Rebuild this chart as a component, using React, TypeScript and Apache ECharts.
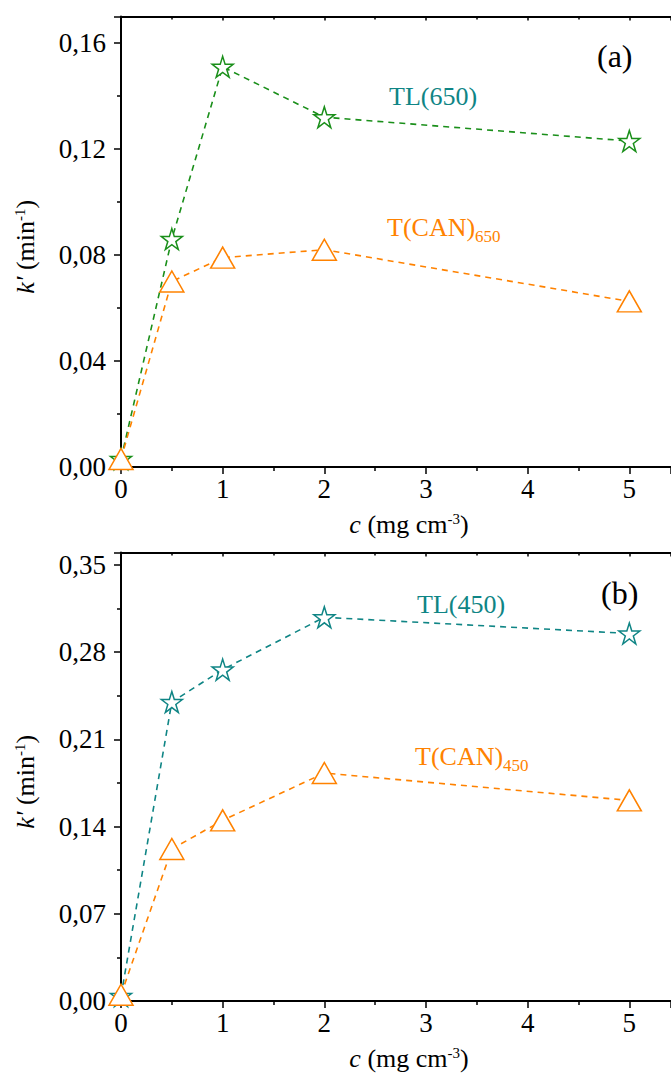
import React, { useEffect, useRef } from "react";
import * as echarts from "echarts";

const xValues = [0, 0.5, 1, 2, 5];
const tl650 = [0.003, 0.086, 0.151, 0.132, 0.123];
const can650 = [0.003, 0.07, 0.079, 0.082, 0.0625];
const tl450 = [0.004, 0.24, 0.266, 0.308, 0.295];
const can450 = [0.005, 0.122, 0.145, 0.183, 0.161];

const FONT = "Liberation Serif";
const GREEN = "#1a8f1a";
const TEAL = "#0f8585";
const ORANGE = "#ff8200";
const STAR =
  "path://M50,0 L61.2,34.5 L97.6,34.5 L68.2,55.9 L79.4,90.5 L50,69.1 L20.6,90.5 L31.8,55.9 L2.4,34.5 L38.8,34.5 Z";

const pairs = (ys: number[]) => xValues.map((x, i) => [x, ys[i]]);

const fmt = (v: number) => v.toFixed(2).replace(".", ",");

function axesFor(gridIndex: number, yMax: number, yInterval: number) {
  const xBase = {
    gridIndex,
    type: "value",
    min: 0,
    max: 5.41,
    interval: 1,
    splitLine: { show: false },
    axisLine: { show: true, lineStyle: { color: "#000", width: 2 } },
  };
  const xBottom = {
    ...xBase,
    position: "bottom",
    axisTick: { show: true, inside: false, length: 7, lineStyle: { color: "#000", width: 1.5 } },
    minorTick: { show: true, splitNumber: 2, length: 4, lineStyle: { color: "#000", width: 1.5 } },
    axisLabel: {
      show: true,
      fontFamily: FONT,
      fontSize: 27,
      color: "#000",
      margin: 8,
      showMaxLabel: false,
      formatter: (v: number) => (Number.isInteger(v) ? String(v) : ""),
    },
    name: "{i|c} (mg cm{s|-3})",
    nameLocation: "middle",
    nameGap: 44,
    nameTextStyle: {
      fontFamily: FONT,
      fontSize: 26,
      color: "#000",
      padding: [0, 0, 0, 26],
      rich: {
        i: { fontFamily: FONT, fontSize: 26, fontStyle: "italic", color: "#000" },
        s: { fontFamily: FONT, fontSize: 15, color: "#000", verticalAlign: "top", padding: [0, 0, 10, 0] },
      },
    },
  };
  const xTop = {
    ...xBase,
    position: "top",
    axisTick: { show: true, inside: true, length: 4, lineStyle: { color: "#000", width: 1.5 } },
    minorTick: { show: true, splitNumber: 2, length: 3, lineStyle: { color: "#000", width: 1.5 } },
    axisLabel: { show: false },
  };
  const yLeft = {
    gridIndex,
    type: "value",
    min: 0,
    max: yMax,
    interval: yInterval,
    splitLine: { show: false },
    axisLine: { show: true, lineStyle: { color: "#000", width: 2 } },
    axisTick: { show: true, inside: false, length: 7, lineStyle: { color: "#000", width: 1.5 } },
    minorTick: { show: true, splitNumber: 2, length: 4, lineStyle: { color: "#000", width: 1.5 } },
    axisLabel: {
      fontFamily: FONT,
      fontSize: 27,
      color: "#000",
      margin: 15,
      showMaxLabel: false,
      formatter: (v: number) => {
        const k = v / yInterval;
        return Math.abs(k - Math.round(k)) < 1e-6 ? fmt(v) : "";
      },
    },
    name: "{i|k'} (min{s|-1})",
    nameLocation: "middle",
    nameGap: 83,
    nameTextStyle: {
      fontFamily: FONT,
      fontSize: 26,
      color: "#000",
      padding: [0, 10, 0, 0],
      rich: {
        i: { fontFamily: FONT, fontSize: 26, fontStyle: "italic", color: "#000" },
        s: { fontFamily: FONT, fontSize: 15, color: "#000", verticalAlign: "top", padding: [0, 0, 10, 0] },
      },
    },
  };
  return { xBottom, xTop, yLeft };
}

function lineSeries(
  name: string,
  data: number[],
  color: string,
  symbol: string,
  symbolSize: number | number[],
  xAxisIndex: number,
  yAxisIndex: number
) {
  return {
    name,
    type: "line",
    data: pairs(data),
    xAxisIndex,
    yAxisIndex,
    symbol,
    symbolSize,
    showAllSymbol: true,
    clip: true,
    lineStyle: { color, width: 1.6, type: [6, 5] },
    itemStyle: { color: "#ffffff", borderColor: color, borderWidth: 1.5 },
    z: 3,
  };
}

export default function App() {
  const ref = useRef<HTMLDivElement>(null);
  useEffect(() => {
    if (!ref.current) return;
    const chart = echarts.init(ref.current, undefined, { renderer: "svg" });
    const a = axesFor(0, 0.17, 0.04);
    const b = axesFor(1, 0.36, 0.07);
    const txt = (x: number, y: number, text: string, color: string, size: number) => ({
      type: "text",
      x,
      y,
      style: {
        text,
        fill: color,
        fontFamily: FONT,
        fontSize: size,
        verticalAlign: "middle",
        rich: {
          m: { fontFamily: FONT, fontSize: size, fill: color },
          sub: { fontFamily: FONT, fontSize: 17, fill: color, padding: [18, 0, 0, 0] },
        },
      },
    });
    chart.setOption({
      animation: false,
      backgroundColor: "#ffffff",
      textStyle: { fontFamily: FONT },
      grid: [
        { left: 121, top: 16.5, width: 550, height: 450.5 },
        { left: 121, top: 552.5, width: 550, height: 448.5 },
      ],
      xAxis: [a.xBottom, a.xTop, b.xBottom, b.xTop],
      yAxis: [a.yLeft, b.yLeft],
      series: [
        lineSeries("TL(650)", tl650, GREEN, STAR, 21, 0, 0),
        lineSeries("T(CAN)650", can650, ORANGE, "triangle", [24, 21], 0, 0),
        lineSeries("TL(450)", tl450, TEAL, STAR, 21, 2, 1),
        lineSeries("T(CAN)450", can450, ORANGE, "triangle", [24, 21], 2, 1),
      ],
      graphic: [
        txt(597, 56, "(a)", "#000", 32),
        txt(389, 96, "TL(650)", TEAL, 26),
        txt(387, 227, "{m|T(CAN)}{sub|650}", ORANGE, 26),
        txt(601, 593, "(b)", "#000", 32),
        txt(417, 604, "TL(450)", TEAL, 26),
        txt(415, 756, "{m|T(CAN)}{sub|450}", ORANGE, 26),
      ],
    });
    return () => chart.dispose();
  }, []);
  return (
    <div
      ref={ref}
      style={{ position: "absolute", left: 0, top: 0, width: 671, height: 1075, background: "#fff" }}
    />
  );
}
